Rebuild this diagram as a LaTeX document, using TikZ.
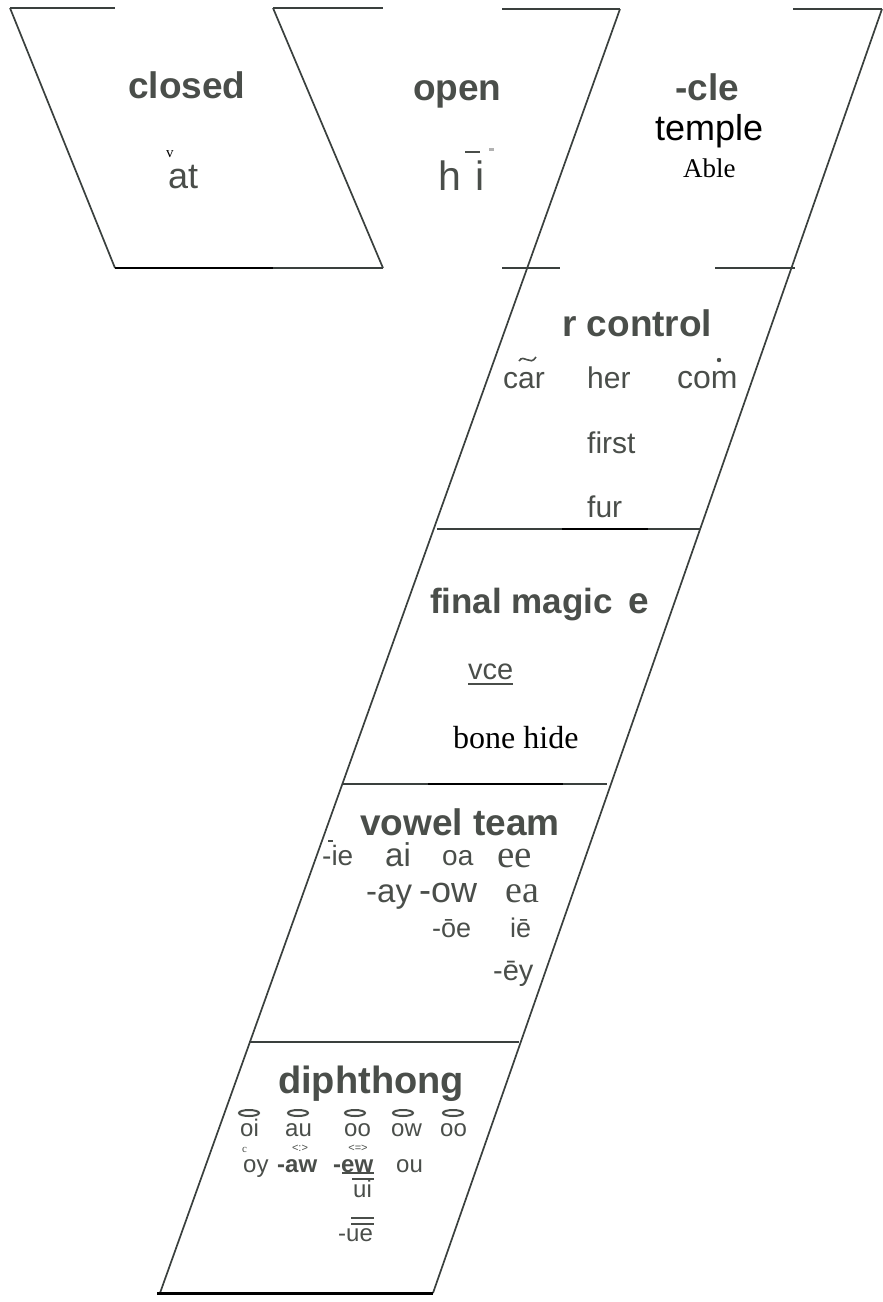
\documentclass[tikz,border=0pt]{standalone}
\usepackage{fontspec}
\setmainfont{Liberation Sans}
\newfontfamily\timesfont{Liberation Serif}
\usetikzlibrary{positioning}
\definecolor{inkgray}{RGB}{74,78,74}
\definecolor{rulegray}{RGB}{58,64,62}
\tikzset{
  heading/.style={anchor=base west, inner sep=0pt, text=inkgray, font=\fontsize{37}{40}\selectfont\bfseries},
  word/.style={anchor=base west, inner sep=0pt, text=inkgray, font=\fontsize{#1}{#1}\selectfont},
  word/.default=30,
  serifword/.style={anchor=base west, inner sep=0pt, text=black, font=\timesfont\fontsize{#1}{#1}\selectfont},
  serifword/.default=30,
  boldword/.style={word=#1, font=\fontsize{#1}{#1}\selectfont\bfseries},
  accent/.style={anchor=base, inner sep=0pt, text=inkgray, font=\fontsize{11}{11}\selectfont},
  rule/.style={draw=rulegray, line width=1.7pt},
  blackrule/.style={draw=black, line width=2pt}
}
\begin{document}
\begin{tikzpicture}[x=1pt, y=-1pt]
  \useasboundingbox (0,0) rectangle (883,1302);

  % outline of the Y
  \draw[rule] (10,8) -- (115,268);
  \draw[rule] (273,8) -- (383,268);
  \draw[rule] (620,9) -- (160,1293);
  \draw[rule] (882,9) -- (433,1293);
  \draw[rule] (10,8) -- (115,8);
  \draw[rule] (273,8) -- (383,8);
  \draw[rule] (502,9) -- (620,9);
  \draw[rule] (793,9) -- (882,9);
  \draw[blackrule] (115,268) -- (273,268);
  \draw[rule] (273,268) -- (383,268);
  \draw[rule] (502,268) -- (560,268);
  \draw[rule] (715,268) -- (795,268);
  \draw[rule] (437,529) -- (700,529);
  \draw[blackrule] (562,529) -- (648,529);
  \draw[rule] (343,784) -- (607,784);
  \draw[blackrule] (428,784) -- (563,784);
  \draw[rule] (249,1042) -- (519,1042);
  \draw[blackrule, line width=3pt] (157,1293) -- (433,1293);

  % top row
  \node[heading] (closed) at (128,98) {closed};
  \node[word=36] (at) at (168,188) {at};
  \node[serifword=15] (atmark) at (166,157) {v};
  \node[heading] (open) at (413,100) {open};
  \node[word=41] (hh) at (438,190) {h};
  \node[word=41] (ii) at (475,190) {i};
  \draw[inkgray, line width=2.5pt] (465,152) -- (480,152);
  \fill[gray!60] (489,148) rectangle (494,151);
  \node[heading] (cle) at (675,100) {-cle};
  \node[word=36, text=black] (temple) at (655,140) {temple};
  \node[serifword=27] (able) at (683,177) {Able};

  % r control
  \node[heading] (rcontrol) at (562,336) {r control};
  \node[word=30] (car) at (503,388) {car};
  \draw[inkgray, line width=1.6pt] (519,361) .. controls (524,353) and (530,367) .. (536,357);
  \node[word=30] (her) at (587,388) {her};
  \node[word=32] (com) at (677,388) {com};
  \fill[inkgray] (719,360) circle (2.2);
  \node[word=30] (first) at (587,453) {first};
  \node[word=30] (fur) at (587,517) {fur};

  % final magic e
  \node[heading, font=\fontsize{35}{38}\selectfont\bfseries] (magic) at (430,613) {final magic};
  \node[heading] (magice) at (628,613) {e};
  \node[word=29] (vce) at (468,679) {vce};
  \draw[inkgray, line width=2.5pt] (468,684) -- (513,684);
  \node[serifword=32] (bonehide) at (453,748) {bone hide};

  % vowel team
  \node[heading] (vowelteam) at (360,835) {vowel team};
  \node[word=28] (ie) at (322,865) {-ie};
  \draw[inkgray, line width=1.5pt] (328,841) -- (333,841);
  \node[word=33] (ai) at (385,866) {ai};
  \node[word=28] (oa) at (442,865) {oa};
  \node[serifword=39, text=inkgray] (ee) at (497,867) {ee};
  \node[word=33] (ay) at (366,902) {-ay};
  \node[word=36] (ow) at (419,902) {-ow};
  \node[serifword=38, text=inkgray] (ea) at (505,902) {ea};
  \node[word=27] (oe) at (432,937) {-ōe};
  \node[word=27] (ie2) at (510,937) {iē};
  \node[word=29] (ey) at (493,980) {-ēy};

  % diphthong
  \node[heading, font=\fontsize{38}{40}\selectfont\bfseries] (diphthong) at (278,1093) {diphthong};
  \node[word=24] (oi) at (240,1136) {oi};
  \node[word=24] (au) at (285,1136) {au};
  \node[word=24] (oo) at (344,1136) {oo};
  \node[word=24] (owd) at (391,1136) {ow};
  \node[word=24] (oo2) at (440,1136) {oo};
  \foreach \cx in {249,298,355,403,453}
    \draw[inkgray, line width=2pt] (\cx,1113) ellipse [x radius=10, y radius=3];
  \node[serifword=11, text=inkgray] (oymark) at (242,1152) {c};
  \node[word=24] (oy) at (243,1172) {oy};
  \node[boldword=24] (aw) at (277,1172) {-aw};
  \node[accent] (awmark) at (300,1151) {<:>};
  \node[boldword=24] (ew) at (333,1172) {-ew};
  \node[accent] (ewmark) at (358,1151) {<=>};
  \draw[inkgray, line width=2pt] (342,1173) -- (374,1173);
  \node[word=24] (ou) at (396,1172) {ou};
  \draw[inkgray, line width=1.5pt] (352,1179) -- (374,1179);
  \node[word=24] (ui) at (353,1197) {ui};
  \draw[inkgray, line width=1.5pt] (351,1218) -- (374,1218);
  \draw[inkgray, line width=1.5pt] (351,1224) -- (374,1224);
  \node[word=24] (ue) at (338,1241) {-ue};
\end{tikzpicture}
\end{document}
